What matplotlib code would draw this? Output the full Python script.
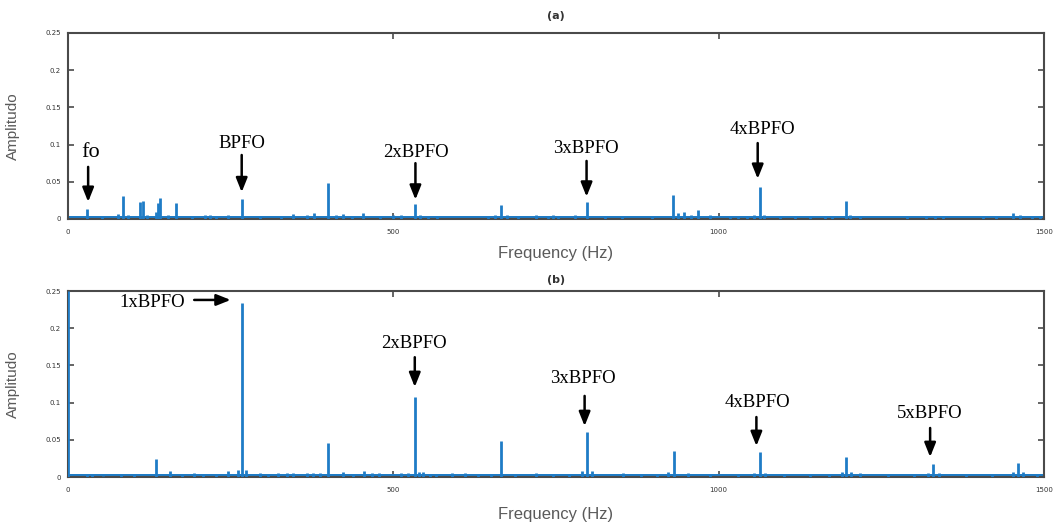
"""Envelope spectra of a bearing with an outer-race fault: (a) vs (b)."""

import matplotlib
matplotlib.use("Agg")
import matplotlib.pyplot as plt

LINE_COLOR = "#1f7cc6"
SPINE_COLOR = "#4a4a4a"
TEXT_GRAY = "#5a5a5a"
NOISE_FLOOR = 0.0035

# ---- panel (a): peak frequencies (Hz) and amplitudes
freq_a = [30, 52, 77, 84, 92, 111, 115, 121, 135, 139, 141, 154, 166, 190,
          211, 218, 228, 246, 267, 295, 328, 346, 367, 378, 400, 412, 423,
          436, 454, 479, 500, 512, 533, 541, 554, 567, 645, 656, 665, 674,
          692, 720, 738, 745, 753, 779, 797, 825, 851, 897, 930, 937, 946,
          957, 969, 987, 1017, 1030, 1043, 1055, 1063, 1070, 1094, 1117,
          1140, 1163, 1174, 1196, 1202, 1217, 1289, 1319, 1332, 1345, 1406,
          1427, 1453, 1463, 1481, 1494]
amp_a = [0.014, 0.004, 0.007, 0.031, 0.006, 0.023, 0.024, 0.006, 0.010,
         0.022, 0.028, 0.006, 0.021, 0.004, 0.006, 0.006, 0.004, 0.006,
         0.027, 0.003, 0.004, 0.007, 0.006, 0.008, 0.049, 0.006, 0.007,
         0.004, 0.008, 0.004, 0.006, 0.006, 0.020, 0.005, 0.003, 0.003,
         0.004, 0.006, 0.019, 0.005, 0.004, 0.006, 0.004, 0.005, 0.004,
         0.005, 0.023, 0.003, 0.003, 0.003, 0.032, 0.008, 0.009, 0.005,
         0.012, 0.006, 0.004, 0.003, 0.004, 0.006, 0.043, 0.006, 0.003,
         0.003, 0.004, 0.003, 0.004, 0.024, 0.006, 0.003, 0.003, 0.004,
         0.004, 0.004, 0.003, 0.004, 0.008, 0.006, 0.004, 0.004]

# ---- panel (b)
freq_b = [0, 29, 37, 54, 82, 101, 135, 157, 175, 193, 208, 228, 246, 262,
          268, 274, 295, 307, 323, 336, 346, 367, 377, 387, 400, 423, 438,
          455, 467, 478, 512, 523, 533, 540, 545, 556, 566, 590, 610, 630,
          650, 665, 687, 720, 745, 770, 790, 797, 805, 853, 880, 905, 922,
          931, 953, 987, 1030, 1055, 1063, 1071, 1100, 1140, 1170, 1190,
          1196, 1204, 1217, 1260, 1300, 1322, 1330, 1338, 1380, 1420, 1452,
          1460, 1468, 1490]
amp_b = [0.25, 0.004, 0.004, 0.002, 0.003, 0.004, 0.024, 0.008, 0.003,
         0.005, 0.004, 0.004, 0.008, 0.009, 0.234, 0.010, 0.005, 0.004,
         0.006, 0.005, 0.005, 0.005, 0.005, 0.005, 0.046, 0.007, 0.004,
         0.008, 0.005, 0.006, 0.006, 0.005, 0.108, 0.007, 0.007, 0.004,
         0.004, 0.005, 0.006, 0.004, 0.004, 0.049, 0.004, 0.005, 0.004,
         0.004, 0.008, 0.060, 0.008, 0.005, 0.004, 0.004, 0.007, 0.035,
         0.005, 0.004, 0.003, 0.006, 0.033, 0.006, 0.003, 0.003, 0.003,
         0.007, 0.027, 0.007, 0.005, 0.003, 0.003, 0.006, 0.018, 0.006,
         0.003, 0.003, 0.007, 0.019, 0.007, 0.003]

X_TICKS = [0, 500, 1000, 1500]
Y_TICKS = [0, 0.05, 0.1, 0.15, 0.2, 0.25]
Y_TICK_LABELS = ["0", "0.05", "0.1", "0.15", "0.2", "0.25"]

# (label, text x, text y, arrow tail, arrow tip) in data coordinates
ANNOT_A = [
    ("fo", 35, 0.090, (31, 0.070), (31, 0.023)),
    ("BPFO", 267, 0.102, (267, 0.086), (267, 0.036)),
    ("2xBPFO", 535, 0.090, (534, 0.075), (534, 0.026)),
    ("3xBPFO", 796, 0.095, (797, 0.078), (797, 0.030)),
    ("4xBPFO", 1068, 0.120, (1060, 0.102), (1060, 0.054)),
]
ANNOT_B = [
    ("1xBPFO", 129, 0.234, (194, 0.238), (250, 0.238)),
    ("2xBPFO", 532, 0.180, (533, 0.161), (533, 0.121)),
    ("3xBPFO", 791, 0.132, (794, 0.109), (794, 0.0685)),
    ("4xBPFO", 1060, 0.0995, (1058, 0.0806), (1058, 0.0417)),
    ("5xBPFO", 1325, 0.086, (1325, 0.0659), (1325, 0.0269)),
]


def style_axes(ax):
    ax.set_xlim(0, 1500)
    ax.set_ylim(0, 0.25)
    ax.set_xticks(X_TICKS)
    ax.set_xticklabels([str(t) for t in X_TICKS])
    ax.set_yticks(Y_TICKS)
    ax.set_yticklabels(Y_TICK_LABELS)
    ax.tick_params(direction="in", length=4, width=1.2, color=SPINE_COLOR,
                   labelsize=5, labelcolor="#333333", top=True, right=True)
    ax.tick_params(axis="x", pad=7)
    ax.tick_params(axis="y", pad=5)
    for sp in ax.spines.values():
        sp.set_color(SPINE_COLOR)
        sp.set_linewidth(1.5)
    ax.set_ylabel("Amplitudo", fontsize=11, color=TEXT_GRAY,
                  family="Liberation Sans")
    ax.yaxis.set_label_coords(-0.049, 0.5)
    ax.set_xlabel("Frequency (Hz)", fontsize=12, color=TEXT_GRAY,
                  family="Liberation Sans")


def draw_spectrum(ax, freqs, amps):
    ax.axhspan(0, NOISE_FLOOR, color=LINE_COLOR, lw=0, zorder=2)
    ax.vlines(freqs, 0, amps, color=LINE_COLOR, lw=2.0, zorder=3)


def draw_annotations(ax, items):
    for label, tx, ty, tail, tip in items:
        size = 16 if label == "fo" else 13.5
        ax.text(tx, ty, label, ha="center", va="center", fontsize=size,
                family="Liberation Serif", color="black", zorder=5)
        ax.annotate("", xy=tip, xytext=tail,
                    arrowprops=dict(arrowstyle="-|>,head_width=0.34,head_length=0.85",
                                    lw=1.8, color="black", shrinkA=0, shrinkB=0,
                                    mutation_scale=10),
                    zorder=5)


fig = plt.figure(figsize=(10.57, 5.25), dpi=100)
ax_a = fig.add_axes([0.0643, 0.5829, 0.9234, 0.3543])
ax_b = fig.add_axes([0.0643, 0.0914, 0.9234, 0.3543])

draw_spectrum(ax_a, freq_a, amp_a)
draw_spectrum(ax_b, freq_b, amp_b)
style_axes(ax_a)
style_axes(ax_b)
ax_a.xaxis.set_label_coords(0.5, -0.145)
ax_b.xaxis.set_label_coords(0.5, -0.161)
ax_a.set_title("(a)", fontsize=8, fontweight="bold", color="#333333", pad=10)
ax_b.set_title("(b)", fontsize=8, fontweight="bold", color="#333333", pad=6)
draw_annotations(ax_a, ANNOT_A)
draw_annotations(ax_b, ANNOT_B)

fig.savefig("out.png", dpi=100)
